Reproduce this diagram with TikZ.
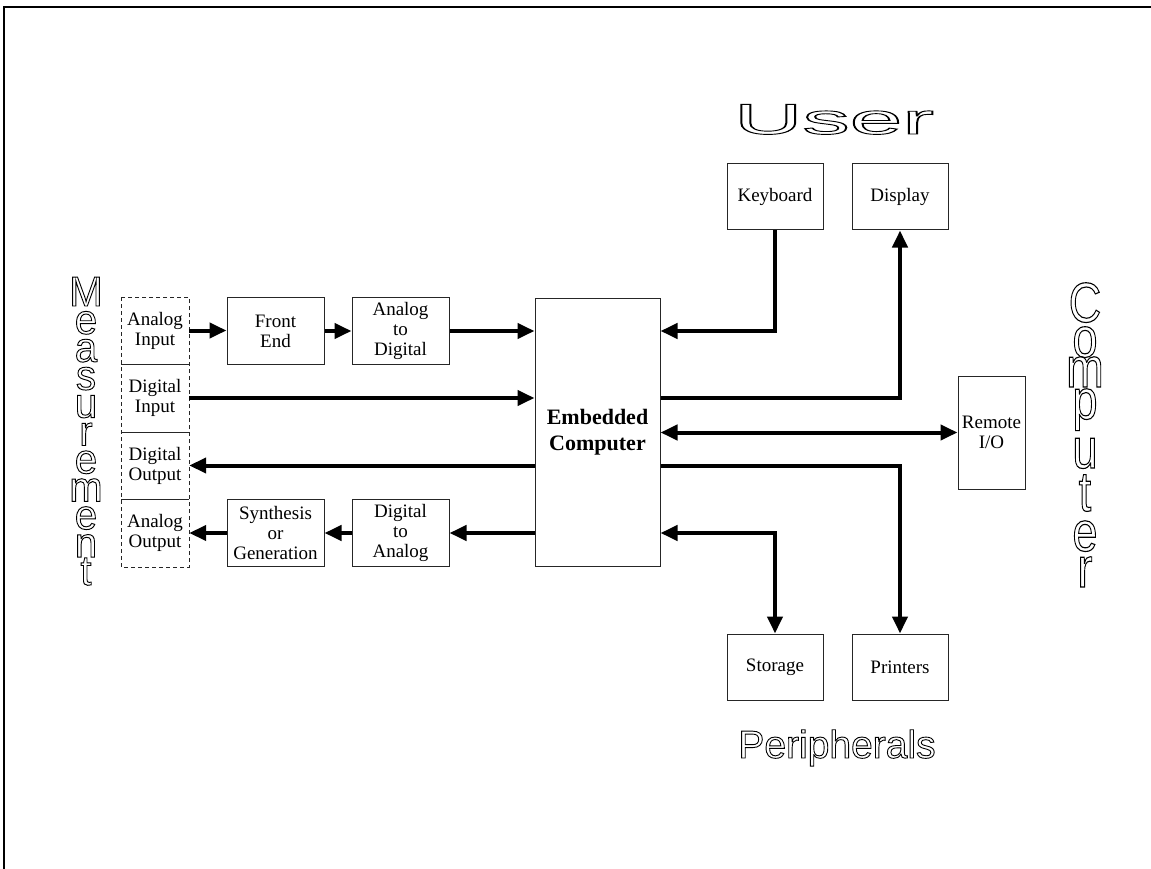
\documentclass[tikz,border=0pt]{standalone}
\usepackage{fontspec}
\setmainfont{Liberation Serif}
\newfontfamily\arialf{Liberation Sans}
\usetikzlibrary{arrows.meta}
\newcommand{\outl}[1]{\special{pdf:literal direct 1 Tr 0.9 w}#1\special{pdf:literal direct 0 Tr}}
\begin{document}
\begin{tikzpicture}[x=1pt,y=-1pt,
  box/.style={draw=black!85, line width=1pt, fill=white, align=center, inner sep=0pt,
    minimum width=97pt, minimum height=67pt, font=\fontsize{19}{20}\selectfont, text=black},
  cell/.style={align=center, inner sep=0pt, minimum width=68pt, minimum height=67pt,
    font=\fontsize{19}{20}\selectfont},
  arr/.style={line width=4pt, -{Triangle[length=17pt,width=15pt]}},
  darr/.style={line width=4pt, {Triangle[length=17pt,width=15pt]}-{Triangle[length=17pt,width=15pt]}},
  big/.style={font=\arialf\fontsize{40}{40}\selectfont, inner sep=0pt, anchor=base}
]
\useasboundingbox (0,0) rectangle (1151,869);
\fill[white] (0,0) rectangle (1151,869);
\draw[line width=2pt] (1151,7.5) -- (3.5,7.5) -- (3.5,869);

% measurement column
\node[cell] (ai) at (155,330.5) {Analog\\Input};
\node[cell] (di) at (155,398) {Digital\\Input};
\node[cell] (dout) at (155,465.5) {Digital\\Output};
\node[cell] (ao) at (155,533) {Analog\\Output};
\draw[dashed, dash pattern=on 4pt off 3pt, line width=1pt, black!85] (121,297) rectangle (189,567);
\draw[line width=1pt, black!85] (121,364) -- (189,364) (121,432) -- (189,432) (121,499) -- (189,499);

% boxes
\node[box] (fe) at (275.5,331) {Front\\End};
\node[box] (ad) at (400.5,331) {Analog\\to\\Digital};
\node[box] (sg) at (275.5,533) {Synthesis\\or\\Generation};
\node[box] (da) at (400.5,533) {Digital\\to\\Analog};
\node[box, minimum width=125pt, minimum height=268pt, font=\fontsize{22}{26}\selectfont\bfseries] (ec) at (597.5,432) {Embedded\\Computer};
\node[box, minimum width=96pt, minimum height=66pt] (kb) at (775,197) {Keyboard};
\node[box, minimum width=96pt, minimum height=66pt] (dp) at (900,197) {Display};
\node[box, minimum width=96pt, minimum height=66pt] (st) at (775,667) {Storage};
\node[box, minimum width=96pt, minimum height=66pt] (pr) at (900,667) {Printers};
\node[box, minimum width=67pt, minimum height=113pt] (rio) at (991.5,432.5) {Remote\\I/O};

% arrows
\draw[arr] (ai.east) -- (ai.east -| fe.west);
\draw[arr] (fe.east) -- (ad.west);
\draw[arr] (ad.east) -- (ad.east -| ec.west);
\draw[arr] (di.east) -- (di.east -| ec.west);
\draw[arr] (dout.east -| ec.west) -- (dout.east);
\draw[arr] (da.east -| ec.west) -- (da.east);
\draw[arr] (da.west) -- (sg.east);
\draw[arr] (sg.west) -- (sg.west -| ao.east);
\draw[arr] (kb.south) |- (ad.east -| ec.east);
\draw[arr] (di.east -| ec.east) -| (dp.south);
\draw[darr] (ec.east |- rio.west) -- (rio.west);
\draw[arr] (dout.east -| ec.east) -| (pr.north);
\draw[darr] (da.east -| ec.east) -| (st.north);

% outlined labels
\node[big, font=\arialf\fontsize{43}{43}\selectfont] (user) at (834,134) {\scalebox{2.2}[1]{\outl{User}}};
\node[big, font=\arialf\fontsize{39}{39}\selectfont] (peri) at (837,758) {\outl{Peripherals}};
\foreach \c [count=\i from 0] in {M,e,a,s,u,r,e,m,e,n,t}
  \node[big] (m\i) at (86,{306+27.9*\i}) {\scalebox{1}[1.05]{\outl{\c}}};
\foreach \c/\yb [count=\i from 0] in {C/322,o/357,m/387,p/419,u/468,t/511,e/551,r/587}
  \node[big, font=\arialf\fontsize{45}{45}\selectfont] (c\i) at (1085,\yb) {\scalebox{1}[1.25]{\outl{\c}}};
\end{tikzpicture}
\end{document}
